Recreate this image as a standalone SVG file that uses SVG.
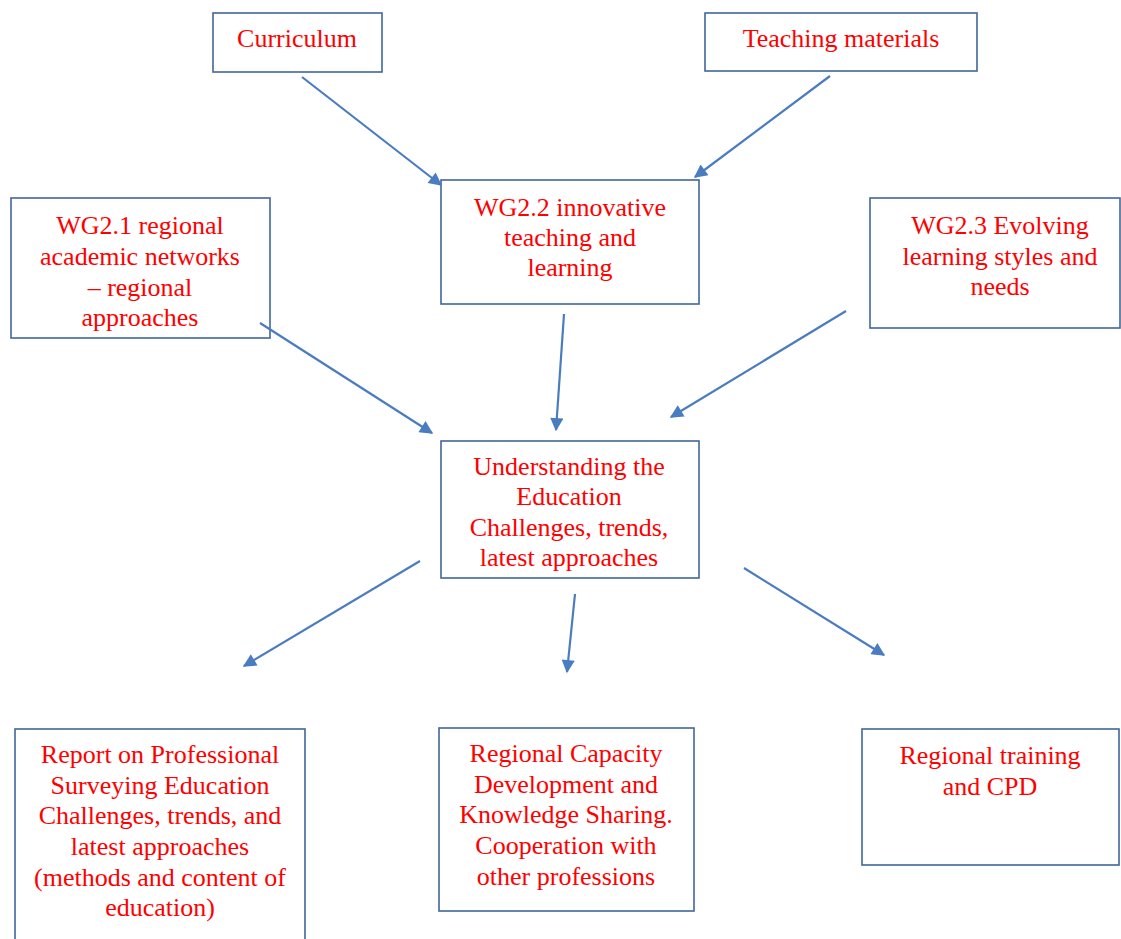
<svg xmlns="http://www.w3.org/2000/svg" width="1121" height="939" viewBox="0 0 1121 939">
<style>
.box{fill:#fff;stroke:#41669a;stroke-width:1.6}
.t{font-family:"Liberation Serif","Times New Roman",serif;font-size:26px;fill:#ff0000;text-anchor:middle}
.c{stroke:#4a7cc0;stroke-width:2.2;fill:none;marker-end:url(#ah)}
</style>
<defs>
<marker id="ah" viewBox="0 0 10 10" refX="9" refY="5" markerWidth="7" markerHeight="6" orient="auto" markerUnits="strokeWidth">
<path d="M0,0 L10,5 L0,10 z" fill="#4a7cc0"/>
</marker>
</defs>
<rect width="1121" height="939" fill="#fff"/>
<g id="curriculum">
<rect class="box" x="213" y="13" width="169" height="59"/>
<text class="t" x="297" y="47">Curriculum</text>
</g>
<g id="teaching-materials">
<rect class="box" x="705" y="13" width="272" height="58"/>
<text class="t" x="841" y="47">Teaching materials</text>
</g>
<g id="wg22">
<rect class="box" x="441" y="180" width="258" height="124"/>
<text class="t" x="570" y="216">WG2.2 innovative</text>
<text class="t" x="570" y="246">teaching and</text>
<text class="t" x="570" y="276">learning</text>
</g>
<g id="wg21">
<rect class="box" x="11" y="198" width="259" height="140"/>
<text class="t" x="140" y="234">WG2.1 regional</text>
<text class="t" x="140" y="265">academic networks</text>
<text class="t" x="140" y="296">– regional</text>
<text class="t" x="140" y="326">approaches</text>
</g>
<g id="wg23">
<rect class="box" x="870" y="198" width="250" height="130"/>
<text class="t" x="1000" y="234">WG2.3 Evolving</text>
<text class="t" x="1000" y="265">learning styles and</text>
<text class="t" x="1000" y="295">needs</text>
</g>
<g id="understanding">
<rect class="box" x="441" y="441" width="258" height="137"/>
<text class="t" x="569" y="475">Understanding the</text>
<text class="t" x="569" y="505">Education</text>
<text class="t" x="569" y="536">Challenges, trends,</text>
<text class="t" x="569" y="566">latest approaches</text>
</g>
<g id="report">
<rect class="box" x="15" y="729" width="290" height="215"/>
<text class="t" x="160" y="763">Report on Professional</text>
<text class="t" x="160" y="794">Surveying Education</text>
<text class="t" x="160" y="824">Challenges, trends, and</text>
<text class="t" x="160" y="855">latest approaches</text>
<text class="t" x="160" y="886">(methods and content of</text>
<text class="t" x="160" y="916">education)</text>
</g>
<g id="capacity">
<rect class="box" x="439" y="728" width="255" height="183"/>
<text class="t" x="566" y="762">Regional Capacity</text>
<text class="t" x="566" y="793">Development and</text>
<text class="t" x="566" y="823">Knowledge Sharing.</text>
<text class="t" x="566" y="854">Cooperation with</text>
<text class="t" x="566" y="885">other professions</text>
</g>
<g id="training">
<rect class="box" x="862" y="729" width="257" height="136"/>
<text class="t" x="990" y="764">Regional training</text>
<text class="t" x="990" y="795">and CPD</text>
</g>
<g id="connectors">
<line class="c" x1="302" y1="77" x2="441" y2="185"/>
<line class="c" x1="830" y1="76" x2="695" y2="177"/>
<line class="c" x1="260" y1="323" x2="432" y2="433"/>
<line class="c" x1="564" y1="314" x2="556" y2="430"/>
<line class="c" x1="846" y1="311" x2="671" y2="417"/>
<line class="c" x1="420" y1="561" x2="244" y2="666"/>
<line class="c" x1="575" y1="594" x2="567" y2="672"/>
<line class="c" x1="744" y1="568" x2="884" y2="655"/>
</g>
</svg>
